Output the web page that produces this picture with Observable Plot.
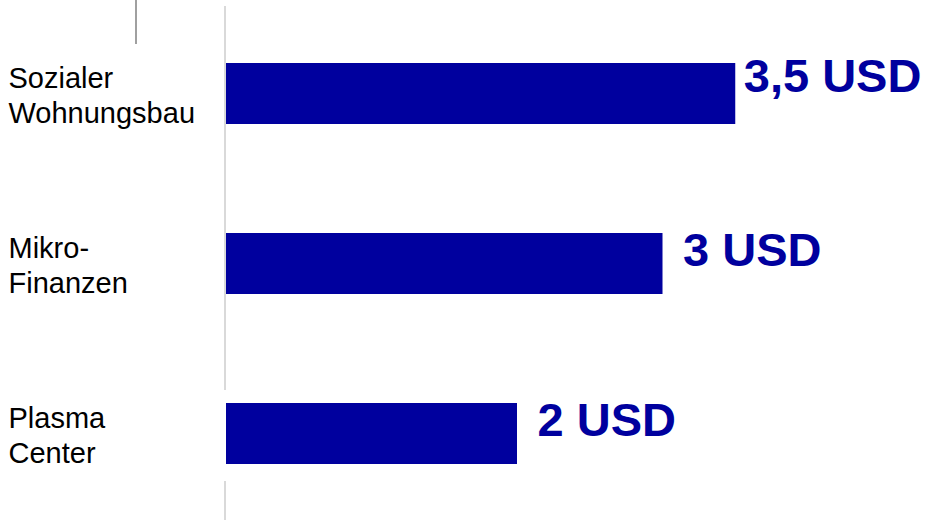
<!DOCTYPE html>
<html>
<head>
<meta charset="utf-8">
<script src="https://cdn.jsdelivr.net/npm/d3@7"></script>
<script src="https://cdn.jsdelivr.net/npm/@observablehq/plot@0.6"></script>
<style>
  html, body { margin: 0; padding: 0; background: #fff; }
  #chart svg { display: block; font-family: "Liberation Sans", Arial, sans-serif; }
</style>
</head>
<body>
<div id="chart"></div>
<script>
const categories = ["Sozialer\nWohnungsbau", "Mikro-\nFinanzen", "Plasma\nCenter"];
const values = [3.5, 3, 2];
const valueLabels = ["3,5 USD", "3 USD", "2 USD"];

const data = categories.map((c, i) => ({cat: c, value: values[i], label: valueLabels[i], idx: i}));
const barColor = "#00009E";

const plot = Plot.plot({
  width: 935,
  height: 520,
  marginLeft: 226,
  marginRight: 127,
  marginTop: 62,
  marginBottom: 55,
  x: {domain: [0, 4], axis: null},
  y: {domain: categories, axis: null, paddingInner: 0.643, paddingOuter: 0},
  marks: [
    Plot.barX(data, {x: "value", y: "cat", fill: barColor}),
    Plot.text(data, {
      y: "cat", text: "cat", frameAnchor: "left", textAnchor: "start",
      dx: -218, lineAnchor: "middle", lineHeight: 1.2,
      fontSize: 29, fill: "#000"
    }),
    Plot.text(data.filter(d => d.idx === 0), {
      x: "value", y: "cat", text: "label", textAnchor: "start",
      dx: 8, dy: -17, fontSize: 47, fontWeight: "bold", fill: barColor
    }),
    Plot.text(data.filter(d => d.idx !== 0), {
      x: "value", y: "cat", text: "label", textAnchor: "start",
      dx: 20, dy: -13, fontSize: 47, fontWeight: "bold", fill: barColor
    })
  ]
});

// decorative axis-like lines
const svg = d3.select(plot);
const x0 = plot.scale("x").apply(0) - 1;
svg.append("line").attr("x1", x0).attr("x2", x0).attr("y1", 6).attr("y2", 390)
  .attr("stroke", "#d9d9d9").attr("stroke-width", 2);
svg.append("line").attr("x1", x0).attr("x2", x0).attr("y1", 481).attr("y2", 520)
  .attr("stroke", "#d9d9d9").attr("stroke-width", 2);
svg.append("line").attr("x1", 136).attr("x2", 136).attr("y1", 0).attr("y2", 44)
  .attr("stroke", "#808080").attr("stroke-width", 1.5);

document.getElementById("chart").appendChild(plot);
</script>
</body>
</html>
